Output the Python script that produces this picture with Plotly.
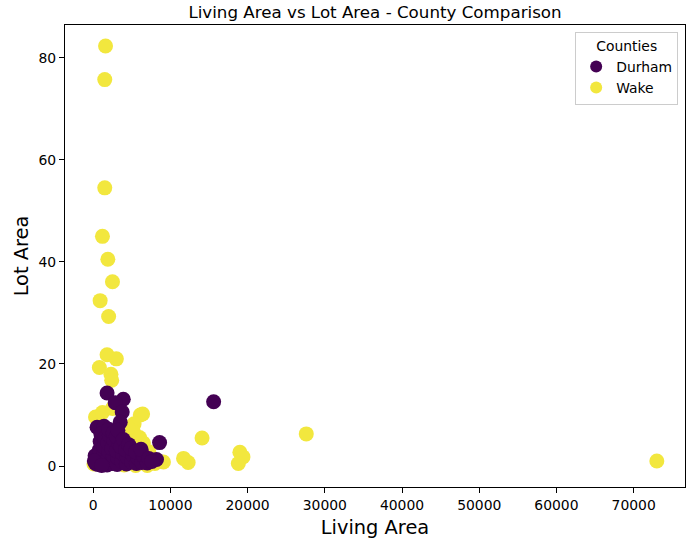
import plotly.graph_objects as go

# Durham county (living area, lot area)
durham_living = [15600, 1800, 3900, 2850, 3760, 3500, 500, 1400, 8600, 8200,
                 300, 250, 600, 700, 800, 900, 1000,
                 1200, 1300, 1400, 1500,
                 1800, 1900, 2000, 1900, 2100, 2000,
                 2500, 2600, 2400, 2700, 2600,
                 3100, 3200, 3000, 3300, 3000, 3200,
                 3700, 3800, 3600, 3900,
                 4300, 4400, 4200, 4600,
                 5000, 5100, 4900,
                 5600, 5800, 5500,
                 6300, 6500, 6200,
                 7000, 7200, 7600, 150, 1100]
durham_lot = [12.6, 14.3, 13.1, 12.4, 10.6, 8.6, 7.6, 7.8, 4.6, 1.3,
              0.5, 2.0, 0.3, 1.5, 3.2, 4.8, 6.3,
              0.6, 2.2, 3.8, 5.5,
              0.2, 1.4, 2.9, 4.5, 6.0, 7.2,
              0.5, 2.0, 3.5, 5.0, 6.5,
              0.3, 1.6, 3.0, 4.4, 5.8, 7.0,
              0.9, 2.4, 3.8, 5.2,
              0.4, 1.8, 3.2, 4.2,
              0.8, 2.2, 3.5,
              0.5, 1.6, 2.8,
              0.7, 2.0, 3.3,
              0.6, 1.5, 0.9, 1.0, 0.1]

# Wake county (living area, lot area)
wake_living = [1600, 1500, 1500, 1200, 1900, 2500, 900, 2000, 1800, 3000,
               800, 2300, 2400, 6400, 14100, 27600, 73000, 19000, 19400, 18800,
               12300, 11700, 9100, 300, 1200, 2500, 6100, 5300, 5200, 6500,
               6000, 7200, 7000, 5500, 4000, 100, 1500, 8000, 6900, 4500]
wake_lot = [82.3, 75.7, 54.5, 45.0, 40.5, 36.1, 32.4, 29.3, 21.8, 21.0,
            19.3, 18.0, 16.8, 10.2, 5.5, 6.3, 1.0, 2.7, 1.8, 0.5,
            0.7, 1.5, 0.8, 9.6, 10.5, 11.3, 10.0, 8.3, 6.8, 4.5,
            5.6, 2.8, 0.1, 0.1, 0.2, 0.4, 0.3, 0.5, 1.2, 7.5]

purple = "rgb(68,1,84)"
yellow = "rgb(242,231,62)"

fig = go.Figure()
fig.add_trace(go.Scatter(x=wake_living, y=wake_lot, mode="markers", name="Wake",
                         legendrank=2,
                         marker=dict(size=15, color=yellow, line=dict(width=0))))
fig.add_trace(go.Scatter(x=durham_living, y=durham_lot, mode="markers", name="Durham",
                         legendrank=1,
                         marker=dict(size=15, color=purple, line=dict(width=0))))

font = "DejaVu Sans"
axis_common = dict(showgrid=False, zeroline=False, showline=True, mirror=True,
                   linecolor="black", linewidth=1, ticks="outside", ticklen=5,
                   tickcolor="black", tickfont=dict(family=font, size=13.9, color="black"))

fig.update_layout(
    width=694, height=543,
    margin=dict(l=65, r=9, t=25, b=56),
    paper_bgcolor="white", plot_bgcolor="white",
    title=dict(text="Living Area vs Lot Area - County Comparison",
               x=0.5, xref="paper", y=1 - 12 / 543, yref="container", yanchor="middle",
               font=dict(family=font, size=16.7, color="black")),
    xaxis=dict(range=[-3650, 76650], tickvals=[0, 10000, 20000, 30000, 40000, 50000, 60000, 70000],
               ticktext=["0", "10000", "20000", "30000", "40000", "50000", "60000", "70000"],
               title=dict(text="Living Area", standoff=8, font=dict(family=font, size=19.4, color="black")),
               **axis_common),
    yaxis=dict(range=[-4.1, 86.4], tickvals=[0, 20, 40, 60, 80],
               title=dict(text="Lot Area", standoff=4, font=dict(family=font, size=19.4, color="black")),
               **axis_common),
    legend=dict(x=0.989, xanchor="right", y=0.985, yanchor="top",
                bgcolor="white", bordercolor="#cccccc", borderwidth=1,
                itemsizing="constant",
                font=dict(family=font, size=13.9, color="black"),
                title=dict(text="Counties", side="top center", font=dict(family=font, size=13.9, color="black"))),
    showlegend=True,
)

fig.write_html("out.html")
